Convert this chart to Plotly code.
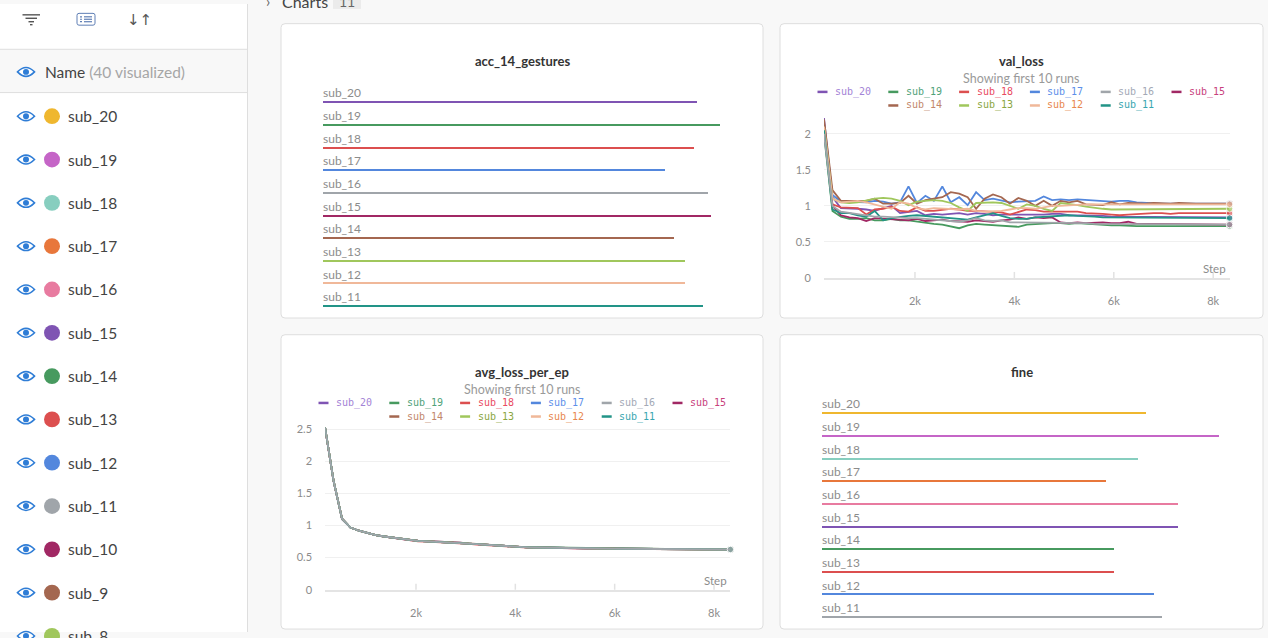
import plotly.graph_objects as go

W, H = 1268, 638

FONT = "Lato"
MONO = "DejaVu Sans Mono"

# %% data
runs = ["sub_20", "sub_19", "sub_18", "sub_17", "sub_16",
        "sub_15", "sub_14", "sub_13", "sub_12", "sub_11"]
sidebar_runs = runs + ["sub_10", "sub_9", "sub_8"]

acc_14_gestures = [0.886, 0.941, 0.879, 0.810, 0.912, 0.919, 0.832, 0.858, 0.858, 0.900]
fine = [0.768, 0.941, 0.749, 0.673, 0.844, 0.844, 0.692, 0.692, 0.787, 0.806]

steps = [170, 340, 510, 680, 850, 1020, 1190, 1360, 1530, 1700,
         1870, 2040, 2210, 2380, 2550, 2720, 2890, 3060, 3230, 3400,
         3570, 3740, 3910, 4080, 4250, 4420, 4590, 4760, 4930, 5100,
         5270, 5440, 5610, 5780, 5950, 6120, 6290, 6460, 6630, 6800,
         6970, 7140, 7310, 7480, 7650, 7820, 7990, 8160, 8330]

step_ticks = [2000, 4000, 6000, 8000]
step_labels = ["2k", "4k", "6k", "8k"]
val_ticks = [0, 0.5, 1, 1.5, 2]
val_tick_labels = ["0", "0.5", "1", "1.5", "2"]
avg_ticks = [0, 0.5, 1, 1.5, 2, 2.5]
avg_tick_labels = ["0", "0.5", "1", "1.5", "2", "2.5"]

val_loss_sub_20 = [2.22, 1.12, 0.97, 0.97, 0.96, 0.95, 0.93, 0.97, 1.00, 0.90,
                   0.92, 0.93, 0.87, 0.89, 0.88, 0.89, 0.90, 0.88, 0.90, 0.89,
                   0.87, 0.88, 0.88, 0.87, 0.87, 0.88, 0.88, 0.89, 0.89, 0.87,
                   0.87, 0.86, 0.86, 0.86, 0.85, 0.85, 0.85, 0.85, 0.85, 0.84,
                   0.84, 0.84, 0.84, 0.84, 0.84, 0.84, 0.84, 0.84, 0.84]
val_loss_sub_19 = [2.00, 0.93, 0.85, 0.82, 0.82, 0.83, 0.80, 0.80, 0.82, 0.80,
                   0.80, 0.78, 0.77, 0.75, 0.74, 0.72, 0.69, 0.73, 0.75, 0.74,
                   0.73, 0.72, 0.71, 0.71, 0.74, 0.75, 0.76, 0.76, 0.76, 0.75,
                   0.76, 0.75, 0.75, 0.74, 0.73, 0.73, 0.72, 0.72, 0.72, 0.72,
                   0.72, 0.72, 0.72, 0.71, 0.72, 0.72, 0.72, 0.72, 0.72]
val_loss_sub_18 = [2.15, 1.02, 0.98, 0.98, 0.97, 0.88, 0.95, 0.96, 0.99, 0.93,
                   0.92, 0.98, 0.93, 0.93, 0.94, 0.96, 0.95, 0.93, 0.93, 0.92,
                   0.92, 0.91, 0.88, 0.92, 0.95, 0.94, 0.92, 0.92, 0.92, 0.93,
                   0.92, 0.90, 0.90, 0.89, 0.88, 0.87, 0.88, 0.89, 0.90, 0.90,
                   0.90, 0.89, 0.90, 0.90, 0.90, 0.90, 0.90, 0.90, 0.90]
val_loss_sub_17 = [2.15, 1.15, 1.06, 1.06, 1.06, 1.05, 1.07, 1.06, 1.03, 1.05,
                   1.27, 1.04, 1.14, 1.07, 1.27, 1.05, 1.12, 1.01, 1.19, 1.08,
                   1.10, 1.08, 1.05, 1.06, 1.06, 1.07, 1.13, 1.08, 1.09, 1.08,
                   1.09, 1.08, 1.07, 1.06, 1.06, 1.07, 1.07, 1.05, 1.04, 1.04,
                   1.03, 1.03, 1.03, 1.03, 1.03, 1.03, 1.03, 1.03, 1.03]
val_loss_sub_16 = [2.00, 1.00, 0.92, 0.90, 0.88, 0.86, 0.85, 0.85, 0.84, 0.83,
                   0.83, 0.83, 0.82, 0.80, 0.79, 0.78, 0.78, 0.80, 0.83, 0.80,
                   0.79, 0.80, 0.77, 0.77, 0.77, 0.76, 0.76, 0.76, 0.76, 0.76,
                   0.76, 0.76, 0.75, 0.75, 0.75, 0.75, 0.75, 0.75, 0.75, 0.75,
                   0.74, 0.74, 0.74, 0.74, 0.74, 0.74, 0.74, 0.74, 0.74]
val_loss_sub_15 = [2.10, 1.00, 0.87, 0.84, 0.83, 0.79, 0.83, 0.82, 0.81, 0.81,
                   0.80, 0.82, 0.79, 0.80, 0.81, 0.79, 0.78, 0.78, 0.80, 0.79,
                   0.78, 0.80, 0.81, 0.84, 0.82, 0.84, 0.83, 0.84, 0.77, 0.76,
                   0.77, 0.76, 0.77, 0.77, 0.76, 0.76, 0.78, 0.75, 0.75, 0.75,
                   0.74, 0.74, 0.74, 0.74, 0.74, 0.74, 0.74, 0.74, 0.74]
val_loss_sub_14 = [2.20, 1.22, 1.07, 1.07, 1.08, 1.07, 1.10, 1.03, 1.03, 1.04,
                   1.14, 1.03, 1.08, 1.10, 1.12, 1.19, 1.17, 1.12, 0.96, 1.10,
                   1.16, 1.12, 1.03, 1.11, 1.07, 1.00, 1.07, 1.00, 1.07, 1.05,
                   1.07, 1.02, 1.01, 1.01, 1.05, 1.02, 1.04, 1.03, 1.03, 1.04,
                   1.03, 1.03, 1.04, 1.03, 1.03, 1.03, 1.03, 1.03, 1.03]
val_loss_sub_13 = [2.10, 1.10, 1.05, 1.04, 1.05, 1.08, 1.10, 1.11, 1.10, 1.07,
                   1.01, 1.06, 1.07, 1.08, 1.07, 1.04, 0.98, 0.93, 1.04, 1.05,
                   1.05, 1.04, 1.00, 0.96, 1.02, 1.00, 0.96, 0.93, 1.04, 1.03,
                   1.01, 0.99, 0.97, 0.96, 0.95, 0.95, 0.95, 0.95, 0.95, 0.96,
                   0.96, 0.96, 0.96, 0.96, 0.96, 0.96, 0.96, 0.96, 0.96]
val_loss_sub_12 = [2.10, 1.10, 1.05, 1.06, 1.07, 1.05, 1.02, 1.00, 0.96, 1.05,
                   1.03, 0.97, 0.95, 0.97, 0.96, 0.95, 0.95, 0.96, 0.93, 0.92,
                   0.92, 0.93, 0.95, 0.97, 0.97, 0.96, 0.98, 1.00, 1.00, 1.01,
                   1.02, 1.02, 1.02, 1.02, 1.02, 1.02, 1.02, 1.02, 1.02, 1.02,
                   1.02, 1.02, 1.02, 1.02, 1.02, 1.02, 1.02, 1.02, 1.02]
val_loss_sub_11 = [2.05, 0.95, 0.90, 0.90, 0.87, 0.85, 0.93, 0.80, 0.83, 0.85,
                   0.86, 0.87, 0.86, 0.86, 0.85, 0.84, 0.82, 0.81, 0.84, 0.87,
                   0.90, 0.86, 0.83, 0.82, 0.82, 0.84, 0.85, 0.86, 0.87, 0.87,
                   0.86, 0.86, 0.85, 0.84, 0.84, 0.83, 0.83, 0.83, 0.83, 0.83,
                   0.83, 0.83, 0.83, 0.83, 0.83, 0.83, 0.83, 0.83, 0.83]

avg_loss_sub_20 = [2.52, 1.69, 1.10, 0.97, 0.92, 0.88, 0.85, 0.83, 0.81, 0.79,
                   0.775, 0.765, 0.76, 0.755, 0.75, 0.745, 0.735, 0.72, 0.71, 0.70,
                   0.695, 0.685, 0.675, 0.665, 0.66, 0.658, 0.655, 0.653, 0.651, 0.65,
                   0.648, 0.646, 0.644, 0.642, 0.64, 0.639, 0.638, 0.637, 0.636, 0.635,
                   0.634, 0.633, 0.632, 0.631, 0.63, 0.629, 0.628, 0.628, 0.627]
avg_loss_sub_19 = [2.53, 1.71, 1.11, 0.97, 0.92, 0.88, 0.85, 0.83, 0.81, 0.79,
                   0.775, 0.76, 0.755, 0.75, 0.745, 0.74, 0.73, 0.72, 0.71, 0.70,
                   0.695, 0.688, 0.678, 0.668, 0.662, 0.66, 0.657, 0.655, 0.652, 0.65,
                   0.648, 0.646, 0.644, 0.642, 0.64, 0.639, 0.638, 0.637, 0.636, 0.635,
                   0.634, 0.633, 0.632, 0.631, 0.63, 0.629, 0.628, 0.628, 0.627]
avg_loss_sub_18 = [2.53, 1.70, 1.11, 0.97, 0.92, 0.88, 0.85, 0.83, 0.81, 0.79,
                   0.77, 0.755, 0.75, 0.745, 0.74, 0.735, 0.725, 0.715, 0.705, 0.695,
                   0.69, 0.682, 0.672, 0.663, 0.658, 0.655, 0.652, 0.65, 0.648, 0.647,
                   0.646, 0.645, 0.643, 0.641, 0.639, 0.638, 0.637, 0.636, 0.635, 0.634,
                   0.633, 0.632, 0.631, 0.63, 0.63, 0.629, 0.628, 0.628, 0.627]
avg_loss_sub_17 = [2.53, 1.70, 1.11, 0.97, 0.92, 0.88, 0.85, 0.83, 0.81, 0.79,
                   0.775, 0.76, 0.755, 0.75, 0.745, 0.74, 0.73, 0.72, 0.71, 0.70,
                   0.695, 0.685, 0.675, 0.665, 0.66, 0.658, 0.655, 0.653, 0.651, 0.65,
                   0.649, 0.647, 0.645, 0.643, 0.641, 0.64, 0.639, 0.638, 0.637, 0.636,
                   0.635, 0.634, 0.633, 0.632, 0.631, 0.63, 0.629, 0.628, 0.628]
avg_loss_sub_16 = [2.53, 1.70, 1.11, 0.97, 0.92, 0.88, 0.85, 0.83, 0.81, 0.79,
                   0.775, 0.76, 0.755, 0.75, 0.745, 0.74, 0.73, 0.72, 0.71, 0.70,
                   0.695, 0.685, 0.675, 0.665, 0.66, 0.658, 0.655, 0.653, 0.651, 0.65,
                   0.648, 0.646, 0.644, 0.642, 0.64, 0.639, 0.638, 0.637, 0.636, 0.635,
                   0.634, 0.633, 0.632, 0.631, 0.63, 0.629, 0.628, 0.628, 0.627]
avg_loss_sub_15 = [2.52, 1.70, 1.11, 0.97, 0.92, 0.88, 0.85, 0.83, 0.81, 0.79,
                   0.775, 0.76, 0.755, 0.75, 0.745, 0.74, 0.73, 0.72, 0.71, 0.70,
                   0.695, 0.685, 0.675, 0.665, 0.66, 0.656, 0.652, 0.65, 0.648, 0.647,
                   0.645, 0.643, 0.641, 0.64, 0.638, 0.637, 0.636, 0.635, 0.634, 0.633,
                   0.633, 0.632, 0.631, 0.63, 0.629, 0.628, 0.628, 0.627, 0.626]
avg_loss_sub_14 = [2.53, 1.70, 1.11, 0.97, 0.92, 0.88, 0.85, 0.83, 0.81, 0.79,
                   0.78, 0.765, 0.76, 0.755, 0.75, 0.745, 0.735, 0.722, 0.712, 0.702,
                   0.696, 0.686, 0.676, 0.666, 0.661, 0.659, 0.656, 0.654, 0.652, 0.651,
                   0.649, 0.647, 0.645, 0.643, 0.641, 0.64, 0.639, 0.638, 0.637, 0.636,
                   0.635, 0.634, 0.633, 0.632, 0.631, 0.63, 0.629, 0.629, 0.628]
avg_loss_sub_13 = [2.53, 1.70, 1.11, 0.97, 0.92, 0.88, 0.85, 0.83, 0.81, 0.79,
                   0.775, 0.76, 0.755, 0.75, 0.745, 0.74, 0.73, 0.72, 0.71, 0.70,
                   0.695, 0.685, 0.675, 0.665, 0.66, 0.658, 0.655, 0.653, 0.651, 0.65,
                   0.648, 0.646, 0.644, 0.642, 0.64, 0.639, 0.638, 0.637, 0.636, 0.635,
                   0.634, 0.633, 0.632, 0.631, 0.63, 0.629, 0.628, 0.628, 0.627]
avg_loss_sub_12 = [2.53, 1.70, 1.11, 0.97, 0.92, 0.88, 0.85, 0.83, 0.81, 0.79,
                   0.775, 0.76, 0.755, 0.75, 0.745, 0.74, 0.73, 0.72, 0.71, 0.70,
                   0.695, 0.685, 0.675, 0.665, 0.66, 0.657, 0.654, 0.652, 0.65, 0.649,
                   0.647, 0.645, 0.643, 0.641, 0.64, 0.638, 0.637, 0.636, 0.635, 0.634,
                   0.633, 0.632, 0.631, 0.63, 0.63, 0.629, 0.628, 0.627, 0.627]
avg_loss_sub_11 = [2.53, 1.70, 1.11, 0.97, 0.92, 0.88, 0.85, 0.83, 0.81, 0.79,
                   0.775, 0.76, 0.755, 0.75, 0.745, 0.74, 0.73, 0.72, 0.71, 0.70,
                   0.695, 0.685, 0.675, 0.665, 0.66, 0.658, 0.655, 0.653, 0.651, 0.65,
                   0.648, 0.646, 0.644, 0.642, 0.64, 0.639, 0.638, 0.637, 0.636, 0.635,
                   0.634, 0.633, 0.632, 0.631, 0.63, 0.629, 0.628, 0.628, 0.627]

val_loss = dict(zip(runs, [val_loss_sub_20, val_loss_sub_19, val_loss_sub_18, val_loss_sub_17,
                           val_loss_sub_16, val_loss_sub_15, val_loss_sub_14, val_loss_sub_13,
                           val_loss_sub_12, val_loss_sub_11]))
avg_loss = dict(zip(runs, [avg_loss_sub_20, avg_loss_sub_19, avg_loss_sub_18, avg_loss_sub_17,
                           avg_loss_sub_16, avg_loss_sub_15, avg_loss_sub_14, avg_loss_sub_13,
                           avg_loss_sub_12, avg_loss_sub_11]))

# %% colours
chart_colors = ["#7f54b3", "#479a5f", "#dc4f4f", "#5387dd", "#a0a5aa",
                "#a12864", "#a46750", "#a0c75c", "#f0b899", "#229487"]
legend_text_colors = ["#a383d6", "#4fa27a", "#e94b62", "#5d8fea", "#a3a9b6",
                      "#c83f7d", "#c2876c", "#8aa63e", "#e8874e", "#37a6b0"]
sidebar_colors = ["#efb72f", "#c565c7", "#87cebf", "#e8773b", "#e87ba0",
                  "#7f54b3", "#479a5f", "#dc4f4f", "#5387dd", "#a0a5aa",
                  "#a12864", "#a46750", "#a0c75c"]
fine_colors = sidebar_colors[:10]

EYE = "#2f7dd6"
BORDER = "#dedede"
TXT = "#444444"
LIGHT = "#8c8c8c"


def px(x):
    return x / W


def py(y):
    return 1 - y / H


shapes = []
annotations = []


def rect(x0, y0, x1, y1, fill, line=None, layer="below"):
    shapes.append(dict(type="rect", xref="paper", yref="paper", layer=layer,
                       x0=px(x0), x1=px(x1), y0=py(y1), y1=py(y0), fillcolor=fill,
                       line=dict(color=line if line else fill, width=1 if line else 0)))


def hline(x0, x1, y, color, width=1, layer="below"):
    shapes.append(dict(type="line", xref="paper", yref="paper", layer=layer,
                       x0=px(x0), x1=px(x1), y0=py(y), y1=py(y),
                       line=dict(color=color, width=width)))


def rounded(x0, y0, x1, y1, r, fill, line):
    p = (f"M {px(x0 + r)},{py(y0)} L {px(x1 - r)},{py(y0)} Q {px(x1)},{py(y0)} {px(x1)},{py(y0 + r)} "
         f"L {px(x1)},{py(y1 - r)} Q {px(x1)},{py(y1)} {px(x1 - r)},{py(y1)} "
         f"L {px(x0 + r)},{py(y1)} Q {px(x0)},{py(y1)} {px(x0)},{py(y1 - r)} "
         f"L {px(x0)},{py(y0 + r)} Q {px(x0)},{py(y0)} {px(x0 + r)},{py(y0)} Z")
    shapes.append(dict(type="path", path=p, xref="paper", yref="paper", layer="below",
                       fillcolor=fill, line=dict(color=line, width=1)))


def text(x, y, s, size, color, anchor="left", family=FONT):
    annotations.append(dict(x=px(x), y=py(y), xref="paper", yref="paper", text=s,
                            showarrow=False, xanchor=anchor, yanchor="middle",
                            font=dict(size=size, color=color, family=family)))


def eye(cx, cy):
    p = (f"M {px(cx - 8.5)},{py(cy)} Q {px(cx)},{py(cy - 9)} {px(cx + 8.5)},{py(cy)} "
         f"Q {px(cx)},{py(cy + 9)} {px(cx - 8.5)},{py(cy)} Z")
    shapes.append(dict(type="path", path=p, xref="paper", yref="paper", layer="above",
                       fillcolor="white", line=dict(color=EYE, width=1.6)))
    shapes.append(dict(type="circle", xref="paper", yref="paper", layer="above",
                       x0=px(cx - 3), x1=px(cx + 3), y0=py(cy + 3), y1=py(cy - 3),
                       fillcolor=EYE, line=dict(width=0)))


# %% sidebar
rect(0, 0, 247.5, 638, "white")
shapes.append(dict(type="line", xref="paper", yref="paper", layer="below",
                   x0=px(247.5), x1=px(247.5), y0=0, y1=1, line=dict(color=BORDER, width=1)))
rect(0, 46, 247, 90, "#f8f8f8")
hline(0, 247, 46, BORDER)
hline(0, 247, 90, BORDER)

# toolbar icons
for yy, x0, x1 in [(11, 22.5, 40), (14.5, 25.5, 37), (18, 28.5, 34), (21, 30, 32.5)]:
    hline(x0, x1, yy, "#555555", 1.4, "above")
rounded(77, 9.5, 95, 21.5, 2, "rgba(0,0,0,0)", "#5f7fb5")
for yy in [13, 15.5, 18]:
    hline(80, 82, yy, "#5f7fb5", 1.2, "above")
    hline(84, 92, yy, "#5f7fb5", 1.2, "above")
text(139.5, 16, "↓↑", 15, "#555555", "center", "DejaVu Sans")

eye(26, 69)
text(42.5, 69, "Name <span style='color:#a6a6a6'>(40 visualized)</span>", 15.5, TXT)

for i, run in enumerate(sidebar_runs):
    cy = 114 + 44 * i
    eye(26, cy)
    shapes.append(dict(type="circle", xref="paper", yref="paper", layer="above",
                       x0=px(44), x1=px(60), y0=py(cy + 8), y1=py(cy - 8),
                       fillcolor=sidebar_colors[i], line=dict(width=0)))
    text(66, cy, run, 15.5, TXT)

# section header, cut at the top of the page
text(264, -3, "›", 15, "#666666")
text(280, -3, "Charts", 16, TXT)
rect(333, -12, 361, 5, "#ebebeb")
text(347, -3, "11", 14, "#666666", "center")

# %% panels
panels = [(281, 20, 763, 319), (780, 20, 1263, 319), (281, 336, 763, 635), (780, 336, 1263, 635)]
for x0, y0, x1, y1 in panels:
    rounded(x0, y0, x1, y1, 4, "white", BORDER)

titles = ["acc_14_gestures", "val_loss", "avg_loss_per_ep", "fine"]
for (x0, y0, x1, y1), t in zip(panels, titles):
    text((x0 + x1) / 2, y0 + 37.5, "<b>" + t + "</b>", 13, "#333333", "center")

# legends of the two line charts
for x0, y0, x1, y1 in [panels[1], panels[2]]:
    text((x0 + x1) / 2, y0 + 55.5, "Showing first 10 runs", 12.5, "#9a9a9a", "center")
    for i, run in enumerate(runs):
        row = 0 if i < 6 else 1
        col = i if i < 6 else i - 5
        sx = x0 + 37.5 + col * 70.8
        sy = y0 + 69.3 + row * 13.8
        hline(sx, sx + 10, sy, chart_colors[i], 2.5, "above")
        text(sx + 15.5, sy, run, 10, legend_text_colors[i], "left", MONO)

# Step labels
text(1214, 269, "Step", 11.5, LIGHT, "center")
text(715, 585.5, "Step", 11.5, LIGHT, "center")

# %% traces
fig = go.Figure()

fig.add_trace(go.Bar(y=runs, x=acc_14_gestures, orientation="h", width=0.09,
                     marker=dict(color=chart_colors, line=dict(width=0)),
                     xaxis="x", yaxis="y", hoverinfo="skip"))
fig.add_trace(go.Bar(y=runs, x=fine, orientation="h", width=0.09,
                     marker=dict(color=fine_colors, line=dict(width=0)),
                     xaxis="x4", yaxis="y4", hoverinfo="skip"))

for run in runs:
    for xr, yr in [("x", "y"), ("x4", "y4")]:
        annotations.append(dict(x=0, y=run, xref=xr, yref=yr, text=run, showarrow=False,
                                xanchor="left", yanchor="middle", yshift=9.5, xshift=-2,
                                font=dict(size=12, color=LIGHT, family=FONT)))

draw_order = [r for r in runs if r != "sub_16"] + ["sub_16"]
n = len(steps)
for run in draw_order:
    c = chart_colors[runs.index(run)]
    for data, xr, yr in [(val_loss, "x2", "y2"), (avg_loss, "x3", "y3")]:
        fig.add_trace(go.Scatter(x=steps, y=data[run], xaxis=xr, yaxis=yr,
                                 mode="lines+markers", cliponaxis=False,
                                 line=dict(color=c, width=1.8),
                                 marker=dict(size=[0] * (n - 1) + [6.5], color=c),
                                 hoverinfo="skip"))

# tick marks crossing the step axis
for xr, yr in [("x2", "y2"), ("x3", "y3")]:
    for t in step_ticks:
        shapes.append(dict(type="line", xref=xr, yref=yr, ysizemode="pixel", yanchor=0,
                           x0=t, x1=t, y0=-6, y1=6, layer="above",
                           line=dict(color="#e2e2e2", width=1.5)))

tickfont = dict(size=11, color=LIGHT, family=FONT)
step_axis = dict(range=[170, 8330], tickvals=step_ticks, ticktext=step_labels, showgrid=False,
                 zeroline=False, showline=True, linecolor="#e4e4e4", linewidth=2, ticks="",
                 ticklabelstandoff=12, tickfont=tickfont, fixedrange=True)
loss_axis = dict(showgrid=True, gridcolor="#f0f0f0", gridwidth=1, zeroline=False, showline=False,
                 ticks="", ticklabelstandoff=12, tickfont=tickfont, fixedrange=True)
hidden = dict(visible=False, fixedrange=True)

fig.update_layout(
    width=W, height=638, margin=dict(l=0, r=0, t=0, b=0),
    paper_bgcolor="#f8f8f8", plot_bgcolor="rgba(0,0,0,0)",
    showlegend=False, hovermode=False, bargap=0,
    font=dict(family=FONT),
    xaxis=dict(domain=[px(323), px(745)], range=[0, 1], anchor="y", **hidden),
    yaxis=dict(domain=[py(318.5), py(88.5)], type="category", categoryorder="array",
               categoryarray=runs, range=[9.5, -0.5], anchor="x", **hidden),
    xaxis2=dict(domain=[px(824), px(1229.6)], anchor="y2", **step_axis),
    yaxis2=dict(domain=[py(278.3), py(113.6)], range=[0, 2.25], anchor="x2",
                tickvals=val_ticks, ticktext=val_tick_labels, **loss_axis),
    xaxis3=dict(domain=[px(325.1), px(730.4)], anchor="y3", **step_axis),
    yaxis3=dict(domain=[py(595), py(429)], range=[0, 2.55], anchor="x3",
                tickvals=avg_ticks, ticktext=avg_tick_labels, **loss_axis),
    xaxis4=dict(domain=[px(822), px(1244)], range=[0, 1], anchor="y4", **hidden),
    yaxis4=dict(domain=[py(634.5), py(404.5)], type="category", categoryorder="array",
                categoryarray=runs, range=[9.5, -0.5], anchor="x4", **hidden),
    shapes=shapes, annotations=annotations,
)

# no page margin, and everything outside the 1268x638 figure is clipped like the window edge
page_css = ("document.documentElement.style.cssText='margin:0;height:638px;overflow:hidden';"
            "document.body.style.cssText='margin:0;height:638px;overflow:hidden';"
            "var gd=document.getElementById('{plot_id}');"
            "gd.style.overflow='hidden';gd.style.display='block';"
            "document.querySelectorAll('svg.main-svg').forEach(function(s){s.style.overflow='hidden';});")
fig.write_html("out.html", config={"displayModeBar": False}, post_script=page_css)
